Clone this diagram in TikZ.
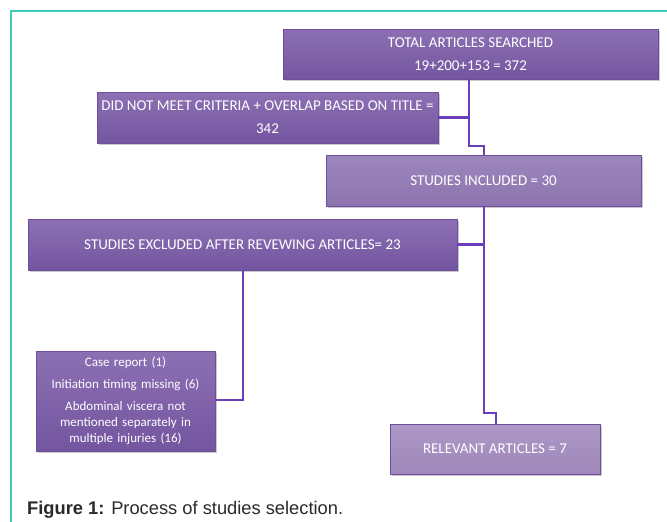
\documentclass[tikz,border=0pt]{standalone}
\usepackage{fontspec}
\setmainfont{Carlito}
\newfontfamily\capfont{Liberation Sans}
\usetikzlibrary{shadows}
\definecolor{frameteal}{HTML}{3CCDB4}
\definecolor{connpurple}{HTML}{6A3DBA}
\definecolor{boxborder}{HTML}{6E4F9E}
\definecolor{captext}{HTML}{2A2A2A}
\definecolor{purple1top}{HTML}{8C70B3}
\definecolor{purple1bot}{HTML}{7455A0}
\definecolor{purple2top}{HTML}{9D86BC}
\definecolor{purple2bot}{HTML}{8D74AF}
\definecolor{purple3top}{HTML}{AD98C6}
\definecolor{purple3bot}{HTML}{9F88BA}
\tikzset{
  conn/.style={draw=connpurple, line width=2.8pt},
  box/.style={draw=boxborder, line width=0.6pt, align=center, text=white,
    font=\fontsize{15}{23}\selectfont, inner sep=2pt,
    drop shadow={shadow xshift=1.5pt, shadow yshift=-1.5pt, opacity=0.35, fill=black!60}},
  darkbox/.style={box, top color=purple1top, bottom color=purple1bot},
  midbox/.style={box, top color=purple2top, bottom color=purple2bot},
  lightbox/.style={box, top color=purple3top, bottom color=purple3bot},
}
\begin{document}
\begin{tikzpicture}[x=1pt,y=-1pt]
\useasboundingbox (0,0) rectangle (667,522);
\fill[white] (0,0) rectangle (667,522);
\draw[frameteal, line width=1.5pt] (11,522) -- (11,11) -- (667,11);

% nodes
\node[darkbox, minimum width=375pt, minimum height=50pt] (tot) at (470.5,54)
  {TOTAL ARTICLES SEARCHED\\19+200+153 = 372};
\node[darkbox, minimum width=341pt, minimum height=51pt] (did) at (267.5,117.5)
  {DID NOT MEET CRITERIA + OVERLAP BASED ON TITLE =\\342};
\node[midbox, minimum width=315pt, minimum height=51pt] (inc) at (483.5,180.5)
  {STUDIES INCLUDED = 30};
\node[darkbox, minimum width=429pt, minimum height=51pt] (exc) at (242.5,244.5)
  {STUDIES EXCLUDED AFTER REVEWING ARTICLES= 23};
\node[darkbox, minimum width=179pt, minimum height=100pt, text width=172pt,
  font=\fontsize{13}{16}\selectfont] (case) at (125.5,401)
  {Case report (1)\\[5.5pt]Initiation timing missing (6)\\[6pt]Abdominal viscera not\\mentioned separately in\\multiple injuries (16)};
\node[lightbox, minimum width=210pt, minimum height=50pt] (rel) at (495,449)
  {RELEVANT ARTICLES = 7};

% junction coordinates
\coordinate (a1) at (469,146);
\coordinate (a2) at (484,146);
\coordinate (b1) at (484,413);
\coordinate (b2) at (496,413);
\coordinate (c1) at (243,400);

% connectors
\draw[conn] (tot.south -| a1) -- (a1) -- (a2) -- (a2 |- inc.north);
\draw[conn] (did.east) -- (did.east -| a1);
\draw[conn] (inc.south -| b1) -- (b1) -- (b2) -- (b2 |- rel.north);
\draw[conn] (exc.east) -- (exc.east -| b1);
\draw[conn] (exc.south -| c1) -- (c1) -- (case.east |- c1);

\node[anchor=base west, inner sep=0pt, text=captext, font=\capfont\fontsize{18.3}{20}\selectfont] (cap) at (27,514)
  {\textbf{Figure 1:} Process of studies selection.};
\end{tikzpicture}
\end{document}
